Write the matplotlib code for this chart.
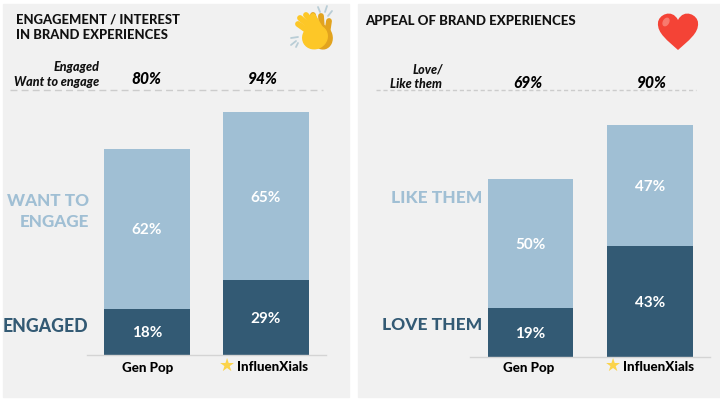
import numpy as np
import matplotlib
matplotlib.use('Agg')
import matplotlib.pyplot as plt
from matplotlib.patches import Ellipse, Rectangle, PathPatch
from matplotlib.path import Path

plt.rcParams['font.family'] = ['Lato', 'DejaVu Sans']

GROUPS = ['Gen Pop', 'InfluenXials']

ENGAGED = [18, 29]
WANT_TO_ENGAGE = [62, 65]
ENGAGE_TOTAL = [80, 94]

LOVE = [19, 43]
LIKE = [50, 47]
APPEAL_TOTAL = [69, 90]

DARK = '#335a74'
LIGHT = '#a0bfd4'
PANEL = '#f1f1f1'
W, H = 720, 405


def px_axes(fig, left, right, top, bottom):
    """Cria um eixo a partir de coordenadas em pixels da imagem."""
    return fig.add_axes([left / W, 1 - bottom / H, (right - left) / W, (bottom - top) / H])


def stacked(fig, left, right, top, bottom, xlim, low, high):
    ax = px_axes(fig, left, right, top, bottom)
    ax.patch.set_alpha(0)
    x = np.arange(len(GROUPS))
    ax.bar(x, low, width=0.715, color=DARK)
    ax.bar(x, high, width=0.715, bottom=low, color=LIGHT)
    label = dict(xytext=(0, -1.2), textcoords='offset points', ha='center', va='center',
                 color='white', fontsize=11, fontweight='bold')
    for i in x:
        ax.annotate(f'{low[i]}%', (i, low[i] / 2), **label)
        ax.annotate(f'{high[i]}%', (i, low[i] + high[i] / 2), **label)
    ax.set_xlim(*xlim)
    ax.set_ylim(0, 100)
    ax.set_yticks([])
    ax.set_xticks([])
    for s in ['top', 'left', 'right']:
        ax.spines[s].set_visible(False)
    ax.spines['bottom'].set_color('#d4d4d4')
    ax.spines['bottom'].set_linewidth(1)
    return ax


def draw_clap(ov):
    # mao de tras (mais escura)
    for x0, y0, x1, y1 in [(316, 28, 313, 15), (322, 30, 321, 16), (327, 34, 329, 21)]:
        ov.plot([x0, x1], [y0, y1], color='#e2a31e', lw=4.2, solid_capstyle='round', zorder=3)
    ov.add_patch(Ellipse((322, 37), 20, 24, angle=-15, color='#e2a31e', zorder=3))
    # mao da frente
    ov.add_patch(Ellipse((315, 37), 25, 23, angle=-30, color='#fdc727', zorder=4))
    for x0, y0, x1, y1 in [(312, 34, 298, 24), (314, 30, 300, 18),
                           (317, 28, 306, 15), (320, 28, 313, 16)]:
        ov.plot([x0, x1], [y0, y1], color='#fdc727', lw=4.2, solid_capstyle='round', zorder=4)
    # riscos
    for x0, y0, x1, y1 in [(320, 12, 318, 7), (325, 12, 327, 6), (328, 16, 332, 11),
                           (291, 38, 298, 37), (291, 45, 296, 41), (296, 47, 298, 43)]:
        ov.plot([x0, x1], [y0, y1], color='#b9cdd6', lw=1.3, solid_capstyle='round', zorder=3)


def draw_heart(ov):
    verts = [(678, 50), (668, 41), (657, 33), (658, 23),
             (658, 15), (672, 8), (678, 20),
             (684, 8), (698, 15), (698, 23),
             (699, 33), (688, 41), (678, 50)]
    codes = [Path.MOVETO] + [Path.CURVE4] * 12
    ov.add_patch(PathPatch(Path(verts, codes), facecolor='#f44336', edgecolor='none', zorder=3))
    ov.add_patch(Ellipse((666, 22), 5, 8, angle=30, color='#f87a6e', zorder=4))


def main():
    fig = plt.figure(figsize=(W / 100, H / 100), dpi=100, facecolor='white')

    # camada de fundo em pixels
    ov = fig.add_axes([0, 0, 1, 1], zorder=0)
    ov.set_xlim(0, W)
    ov.set_ylim(H, 0)
    ov.axis('off')
    ov.add_patch(Rectangle((3, 4), 346, 393, color=PANEL))
    ov.add_patch(Rectangle((358, 4), 362, 393, color=PANEL))

    stacked(fig, 87, 326, 97, 355, (-0.504, 1.504), ENGAGED, WANT_TO_ENGAGE)
    stacked(fig, 470, 710, 99, 357, (-0.506, 1.502), LOVE, LIKE)

    # titulos
    for y, s in [(20, 'ENGAGEMENT / INTEREST'), (35, 'IN BRAND EXPERIENCES')]:
        ov.text(16, y, s, fontsize=9.4, fontweight='black', color='#111111', va='center')
    ov.text(365, 21, 'APPEAL OF BRAND EXPERIENCES', fontsize=9.5, fontweight='black',
            color='#111111', va='center')

    # totais
    ov.plot([10, 323], [89.5, 89.5], color='#cccccc', lw=1, dashes=(5, 3))
    ov.plot([376, 696], [89.5, 89.5], color='#cccccc', lw=1, dashes=(3, 2))
    ital = dict(ha='right', va='center', fontsize=9, style='italic', fontweight='black', color='#111111')
    ov.text(99, 67, 'Engaged', **ital)
    ov.text(99, 82, 'Want to engage', **ital)
    ov.text(443, 69, 'Love/', **ital)
    ov.text(442, 84, 'Like them', **ital)
    for cx, v in zip([146, 263], ENGAGE_TOTAL):
        ov.text(cx, 79, f'{v}%', ha='center', va='center', fontsize=11.2, style='italic', fontweight='black')
    for cx, v in zip([528, 652], APPEAL_TOTAL):
        ov.text(cx, 83, f'{v}%', ha='center', va='center', fontsize=11.2, style='italic', fontweight='black')

    # rotulos das series
    ov.text(89, 201, 'WANT TO', ha='right', va='center', fontsize=12.3, fontweight='black', color=LIGHT)
    ov.text(89, 222, 'ENGAGE', ha='right', va='center', fontsize=12.3, fontweight='black', color=LIGHT)
    ov.text(88, 327, 'ENGAGED', ha='right', va='center', fontsize=12.7, fontweight='black', color=DARK)
    ov.text(482, 198, 'LIKE THEM', ha='right', va='center', fontsize=12.5, fontweight='black', color=LIGHT)
    ov.text(482, 325, 'LOVE THEM', ha='right', va='center', fontsize=12.5, fontweight='black', color=DARK)

    # categorias
    ov.text(148, 368, GROUPS[0], ha='center', va='center', fontsize=9.6, fontweight='black')
    ov.text(529, 368, GROUPS[0], ha='center', va='center', fontsize=9.6, fontweight='black')
    ov.text(237, 367, GROUPS[1], ha='left', va='center', fontsize=9.6, fontweight='black')
    ov.text(623, 367, GROUPS[1], ha='left', va='center', fontsize=9.6, fontweight='black')
    for cx in [227, 613]:
        ov.text(cx, 366, '\u2605', ha='center', va='center', fontsize=13, color='#fbd34a',
                family='DejaVu Sans')

    draw_clap(ov)
    draw_heart(ov)

    fig.savefig('out.png', dpi=100)
    plt.close(fig)


if __name__ == "__main__":
    main()
